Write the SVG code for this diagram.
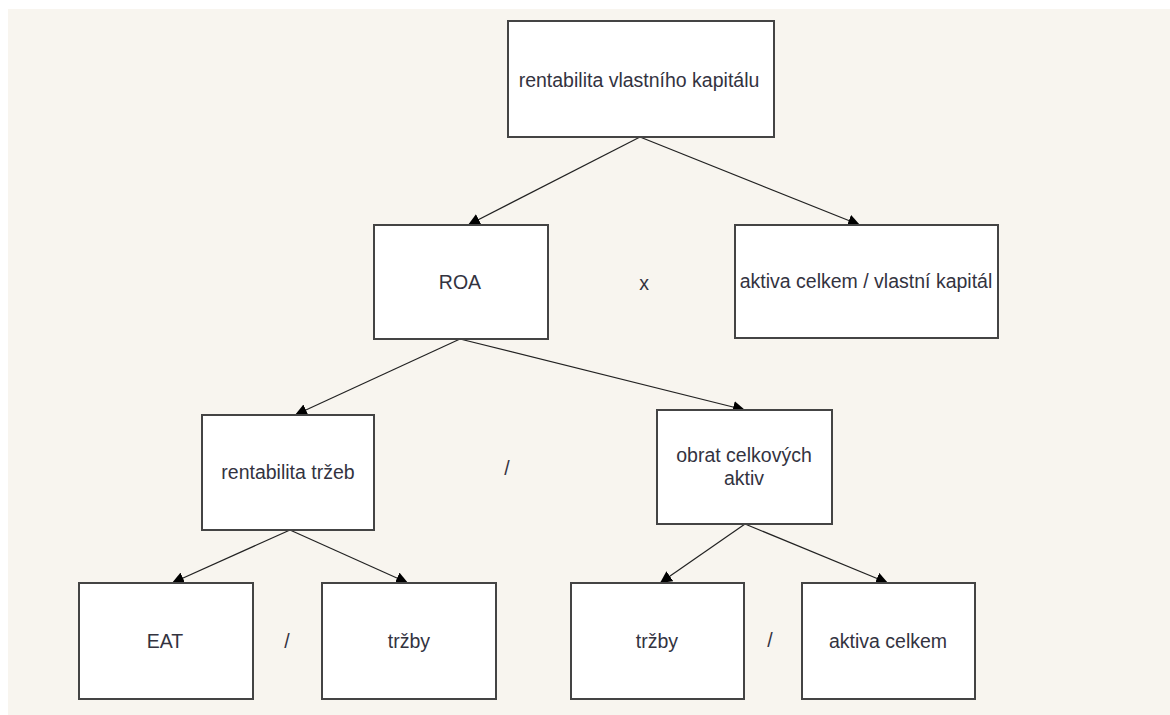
<svg xmlns="http://www.w3.org/2000/svg" width="1170" height="715" viewBox="0 0 1170 715">
<defs>
<style>
.box{fill:#ffffff;stroke:#444444;stroke-width:2}
.t{font-family:"Liberation Sans",Arial,sans-serif;font-size:19.5px;fill:#33333f;text-anchor:middle}
.e{stroke:#222222;stroke-width:1.2;fill:none;marker-end:url(#ah)}
</style>
<marker id="ah" viewBox="0 0 10 10" refX="10" refY="5" markerWidth="12" markerHeight="12" markerUnits="userSpaceOnUse" orient="auto">
<path d="M0,0 L10,5 L0,10 z" fill="#000000"/>
</marker>
</defs>
<rect x="0" y="0" width="1170" height="715" fill="#ffffff"/>
<rect x="8" y="9" width="1162" height="706" fill="#f8f5ef"/>
<g id="connectors">
<line class="e" x1="640" y1="137" x2="468" y2="225"/>
<line class="e" x1="640" y1="137" x2="860" y2="225"/>
<line class="e" x1="460" y1="339" x2="295" y2="415"/>
<line class="e" x1="460" y1="339" x2="745" y2="410"/>
<line class="e" x1="290" y1="530" x2="172" y2="583"/>
<line class="e" x1="290" y1="530" x2="408" y2="583"/>
<line class="e" x1="745" y1="524" x2="660" y2="583"/>
<line class="e" x1="745" y1="524" x2="888" y2="583"/>
</g>
<g id="n-roe"><rect class="box" x="508" y="21" width="266" height="116"/><text class="t" x="639" y="87">rentabilita vlastního kapitálu</text></g>
<g id="n-roa"><rect class="box" x="374" y="225" width="174" height="114"/><text class="t" x="460" y="289">ROA</text></g>
<g id="n-lev"><rect class="box" x="735" y="225" width="263" height="113"/><text class="t" x="866" y="288">aktiva celkem / vlastní kapitál</text></g>
<g id="n-ros"><rect class="box" x="202" y="415" width="172" height="115"/><text class="t" x="288" y="479">rentabilita tržeb</text></g>
<g id="n-turn"><rect class="box" x="657" y="410" width="175" height="114"/><text class="t" x="744" y="462">obrat celkových</text><text class="t" x="744" y="485">aktiv</text></g>
<g id="n-eat"><rect class="box" x="79" y="583" width="174" height="116"/><text class="t" x="165" y="648">EAT</text></g>
<g id="n-trzby1"><rect class="box" x="322" y="583" width="174" height="116"/><text class="t" x="409" y="648">tržby</text></g>
<g id="n-trzby2"><rect class="box" x="571" y="583" width="173" height="116"/><text class="t" x="657" y="648">tržby</text></g>
<g id="n-aktiva"><rect class="box" x="802" y="583" width="173" height="116"/><text class="t" x="888" y="648">aktiva celkem</text></g>
<g id="ops">
<text class="t" x="644" y="290">x</text>
<text class="t" x="507" y="475">/</text>
<text class="t" x="287" y="648">/</text>
<text class="t" x="770" y="647">/</text>
</g>
</svg>
